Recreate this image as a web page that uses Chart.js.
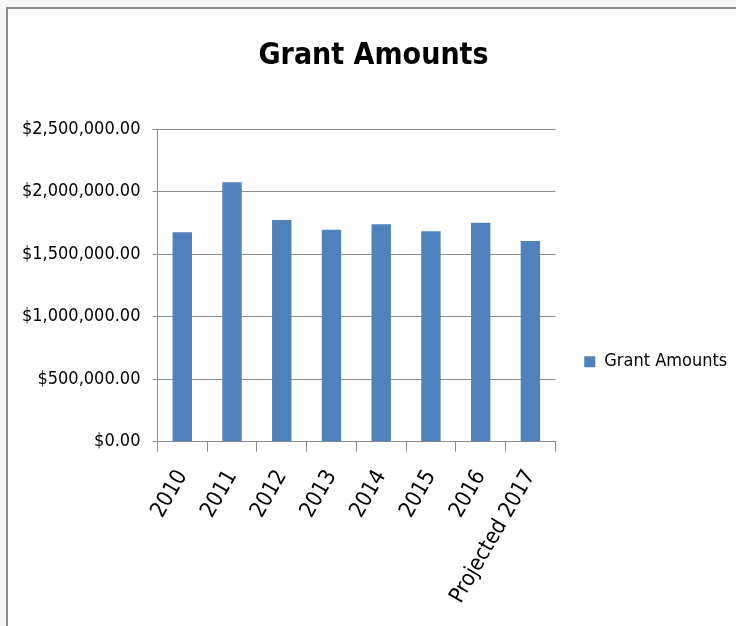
<!DOCTYPE html>
<html>
<head>
<meta charset="utf-8">
<script src="https://cdn.jsdelivr.net/npm/chart.js@4.4.1/dist/chart.umd.min.js"></script>
<style>
  html, body { margin: 0; padding: 0; }
  body {
    width: 736px; height: 626px; overflow: hidden; position: relative;
    background: #f6f6f6;
  }
  #box {
    position: absolute; left: 6px; top: 7px; width: 760px; height: 640px;
    background: #fff; border: 2px solid #8c8c8c;
  }
  #wrap { position: absolute; left: 0; top: 0; width: 736px; height: 617px; }
</style>
</head>
<body>
<div id="box">
  <div id="wrap"><canvas id="chart"></canvas></div>
</div>
<script>
const categories = ['2010', '2011', '2012', '2013', '2014', '2015', '2016', 'Projected 2017'];
const grantAmounts = [1675000, 2075000, 1772000, 1694000, 1739000, 1683000, 1750000, 1605000];
const yTicks = [0, 500000, 1000000, 1500000, 2000000, 2500000];

const FONT = "'DejaVu Sans Condensed', sans-serif";
const money = v => '$' + v.toLocaleString('en-US', { minimumFractionDigits: 2, maximumFractionDigits: 2 });

new Chart(document.getElementById('chart'), {
  type: 'bar',
  data: {
    labels: categories,
    datasets: [{
      label: 'Grant Amounts',
      data: grantAmounts,
      backgroundColor: '#4f81bd',
      borderWidth: 0,
      barPercentage: 0.39,
      categoryPercentage: 1,
    }]
  },
  options: {
    responsive: true,
    maintainAspectRatio: false,
    animation: false,
    layout: { padding: { left: 2, right: 7, top: 0, bottom: 4 } },
    plugins: {
      title: {
        display: true,
        text: 'Grant Amounts',
        color: '#000',
        font: { family: FONT, size: 30, weight: 'bold' },
        padding: { top: 29, bottom: 55 },
      },
      legend: {
        position: 'right',
        // empty legend title only pushes the entry down to where the reference has it
        title: { display: true, text: '', padding: { top: 78, bottom: 0 } },
        labels: {
          boxWidth: 11, boxHeight: 11, padding: 29,
          color: '#000',
          font: { family: FONT, size: 18 },
        }
      },
      tooltip: { enabled: false }
    },
    scales: {
      x: {
        grid: { display: true, drawOnChartArea: false, drawTicks: true, tickLength: 10, color: '#8c8c8c', offset: true },
        border: { display: true, color: '#8c8c8c', width: 1 },
        ticks: {
          color: '#000', font: { family: FONT, size: 22 },
          minRotation: 60, maxRotation: 60, padding: 14,
        }
      },
      y: {
        min: 0, max: 2500000,
        afterBuildTicks: axis => { axis.ticks = yTicks.map(v => ({ value: v })); },
        grid: { color: '#8c8c8c', tickLength: 5, lineWidth: 1 },
        border: { display: true, color: '#8c8c8c', width: 1 },
        ticks: {
          color: '#000', font: { family: FONT, size: 18 }, padding: 12,
          callback: v => money(v),
        }
      }
    }
  }
});
</script>
</body>
</html>
